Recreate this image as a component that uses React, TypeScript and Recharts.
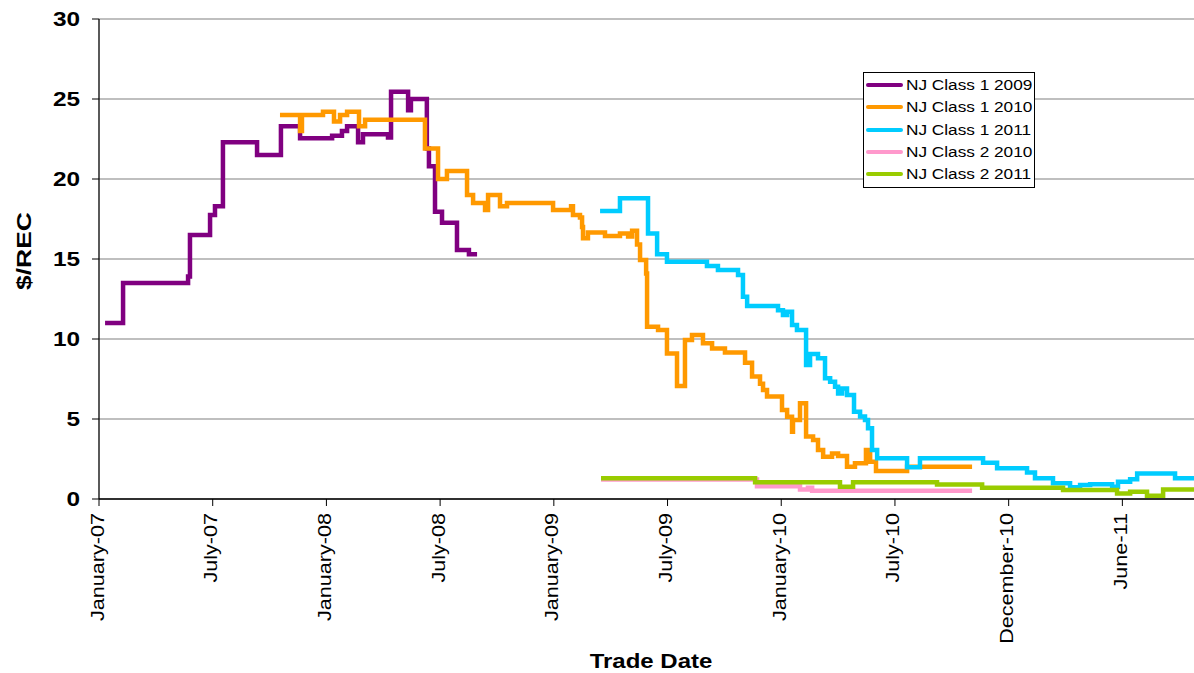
// NJ SREC trade prices, Jan-07 .. mid-11. Stepped price lines per vintage,
// x is trade month counted from January 2007.

import { LineChart, Line, XAxis, YAxis, CartesianGrid, Legend } from "recharts";

const FONT = '"Liberation Sans", Arial, sans-serif';

const X_TICKS = [0, 6, 12, 18, 24, 30, 36, 42, 48, 54];
const X_TICK_LABELS = [
  "January-07",
  "July-07",
  "January-08",
  "July-08",
  "January-09",
  "July-09",
  "January-10",
  "July-10",
  "December-10",
  "June-11",
];
const Y_TICKS = [0, 5, 10, 15, 20, 25, 30];

// [trade month, $/REC]
const nj1_2009: [number, number][] = [
  [0.32, 11.0], [1.27, 13.5], [4.7, 13.9], [4.8, 16.5], [5.86, 17.75], [6.12, 18.3],
  [6.54, 22.3], [8.34, 21.5], [9.6, 23.3], [10.61, 22.55], [12.3, 22.7], [12.82, 23.0],
  [13.09, 23.3], [13.67, 22.3], [13.93, 22.8], [15.25, 22.6], [15.41, 25.45], [16.31, 24.3],
  [16.46, 25.0], [17.3, 21.9], [17.41, 20.8], [17.73, 17.95], [18.1, 17.27], [18.89, 15.56],
  [19.52, 15.3], [19.95, 15.3],
];

const nj1_2010: [number, number][] = [
  [9.55, 24.0], [10.61, 23.0], [10.71, 24.0], [11.82, 24.2], [12.4, 23.6], [12.72, 24.0],
  [13.09, 24.2], [13.72, 23.3], [14.04, 23.7], [17.2, 21.9], [17.89, 20.0], [18.36, 20.5],
  [19.42, 19.0], [19.74, 18.5], [20.37, 18.06], [20.53, 19.0], [21.16, 18.3], [21.53, 18.5],
  [23.96, 18.06], [24.91, 18.3], [25.01, 17.75], [25.38, 17.6], [25.49, 17.0], [25.54, 16.3],
  [25.8, 16.65], [26.7, 16.44], [27.49, 16.6], [27.92, 16.4], [28.13, 16.77], [28.39, 15.9],
  [28.55, 14.94], [28.87, 14.1], [28.92, 10.77], [29.5, 10.56], [29.97, 9.1], [30.5, 7.06],
  [30.92, 9.94], [31.29, 10.25], [31.87, 9.73], [32.35, 9.4], [33.03, 9.15], [34.09, 8.52],
  [34.46, 7.65], [34.88, 7.2], [35.04, 6.81], [35.25, 6.4], [36.04, 5.56], [36.31, 5.14],
  [36.57, 4.2], [36.62, 4.94], [36.99, 5.98], [37.31, 3.9], [37.68, 3.69], [37.94, 3.06],
  [38.21, 2.64], [38.68, 2.85], [39.0, 2.69], [39.47, 2.02], [39.89, 2.23], [40.47, 3.06],
  [40.69, 2.33], [41.0, 1.75], [42.64, 2.02], [46.07, 2.02],
];

const nj1_2011: [number, number][] = [
  [26.44, 18.0], [27.49, 18.79], [28.97, 16.6], [29.45, 15.3], [29.97, 14.83], [32.08, 14.56],
  [32.66, 14.31], [33.72, 14.0], [33.98, 12.64], [34.2, 12.06], [35.83, 11.8], [36.09, 11.5],
  [36.31, 11.7], [36.57, 10.88], [36.83, 10.56], [37.31, 8.38], [37.52, 9.06], [37.94, 8.79],
  [38.31, 7.54], [38.58, 7.33], [38.84, 7.02], [39.0, 6.6], [39.21, 6.9], [39.47, 6.5],
  [39.84, 5.46], [40.16, 5.15], [40.42, 4.94], [40.58, 4.42], [40.79, 3.06], [41.06, 2.54],
  [42.64, 1.98], [43.32, 2.54], [46.65, 2.27], [47.39, 1.92], [48.97, 1.65], [49.39, 1.29],
  [50.34, 0.98], [51.24, 0.73], [51.77, 0.88], [52.3, 0.92], [53.46, 0.77], [53.77, 1.08],
  [54.41, 1.23], [54.78, 1.6], [56.78, 1.29], [57.78, 1.29],
];

const nj2_2010: [number, number][] = [
  [26.49, 1.22], [34.72, 0.8], [36.99, 0.6], [37.41, 0.7], [37.63, 0.52], [46.07, 0.52],
];

const nj2_2011: [number, number][] = [
  [26.49, 1.3], [34.62, 1.04], [39.1, 0.77], [39.79, 1.04], [44.22, 0.9], [46.6, 0.7],
  [50.87, 0.56], [53.72, 0.35], [54.41, 0.46], [55.3, 0.21], [56.15, 0.6], [57.78, 0.6],
];

const toRows = (pts: [number, number][]) => pts.map(([m, v]) => ({ m, v }));

const SERIES = [
  { name: "NJ Class 1 2009", color: "#800080", pts: nj1_2009 },
  { name: "NJ Class 1 2010", color: "#FF9900", pts: nj1_2010 },
  { name: "NJ Class 1 2011", color: "#00CCFF", pts: nj1_2011 },
  { name: "NJ Class 2 2010", color: "#FF99CC", pts: nj2_2010 },
  { name: "NJ Class 2 2011", color: "#99CC00", pts: nj2_2011 },
];

function YTick({ x, y, payload }: any) {
  return (
    <g transform={`translate(${x - 10},${y})`}>
      <text
        textAnchor="end"
        dy="0.36em"
        transform="scale(1.25,1)"
        fontFamily={FONT}
        fontWeight="bold"
        fontSize={19.5}
        fill="#000"
      >
        {payload.value}
      </text>
    </g>
  );
}

function XTick({ x, y, payload }: any) {
  const i = X_TICKS.indexOf(payload.value);
  return (
    <g transform={`translate(${x},${y + 5}) rotate(-90)`}>
      <text
        textAnchor="end"
        dy="0.25em"
        transform="scale(1.2,1)"
        fontFamily={FONT}
        fontSize={18}
        fill="#000"
      >
        {X_TICK_LABELS[i]}
      </text>
    </g>
  );
}

function XLabel() {
  return (
    <g transform="translate(651,668) scale(1.17,1)">
      <text textAnchor="middle" fontFamily={FONT} fontWeight="bold" fontSize={20.5} fill="#000">
        Trade Date
      </text>
    </g>
  );
}

function YLabel() {
  return (
    <g transform="translate(31,251) rotate(-90) scale(1.26,1)">
      <text textAnchor="middle" fontFamily={FONT} fontWeight="bold" fontSize={21} fill="#000">
        $/REC
      </text>
    </g>
  );
}

function LegendBox() {
  return (
    <div
      style={{
        width: 172,
        height: 116,
        boxSizing: "border-box",
        border: "1px solid #000",
        background: "#fff",
        paddingTop: 1,
      }}
    >
      {SERIES.map((s) => (
        <div key={s.name} style={{ display: "flex", alignItems: "center", height: 22.3 }}>
          <div
            style={{ width: 37, height: 4, marginLeft: 2, background: s.color, borderRadius: 2 }}
          />
          <span
            style={{
              marginLeft: 3,
              fontFamily: FONT,
              fontSize: 14,
              color: "#000",
              whiteSpace: "nowrap",
              display: "inline-block",
              transform: "scaleX(1.23)",
              transformOrigin: "left center",
            }}
          >
            {s.name}
          </span>
        </div>
      ))}
    </div>
  );
}

export default function App() {
  return (
    <div style={{ position: "absolute", left: 0, top: 0, width: 1194, height: 673, background: "#fff" }}>
      <LineChart width={1194} height={673} margin={{ top: 19, right: 0, bottom: 0, left: 0 }}>
        <CartesianGrid vertical={false} stroke="#808080" strokeWidth={1.2} />
        <XAxis
          type="number"
          dataKey="m"
          domain={[0, 57.78]}
          ticks={X_TICKS}
          interval={0}
          allowDataOverflow
          height={174}
          tickSize={7}
          tick={<XTick />}
          axisLine={{ stroke: "#000", strokeWidth: 1.3 }}
          tickLine={{ stroke: "#000" }}
          label={<XLabel />}
        />
        <YAxis
          type="number"
          domain={[0, 30]}
          ticks={Y_TICKS}
          interval={0}
          width={99}
          tickSize={7}
          tick={<YTick />}
          axisLine={{ stroke: "#000", strokeWidth: 1.3 }}
          tickLine={{ stroke: "#000" }}
          label={<YLabel />}
        />
        <Legend
          layout="horizontal"
          verticalAlign="middle"
          align="center"
          content={<LegendBox />}
          wrapperStyle={{ position: "absolute", left: 863, top: 72, width: 172, height: 116 }}
        />
        {SERIES.map((s) => (
          <Line
            key={s.name}
            name={s.name}
            data={toRows(s.pts)}
            dataKey="v"
            type="stepAfter"
            stroke={s.color}
            strokeWidth={4.5}
            dot={false}
            activeDot={false}
            isAnimationActive={false}
          />
        ))}
      </LineChart>
    </div>
  );
}
